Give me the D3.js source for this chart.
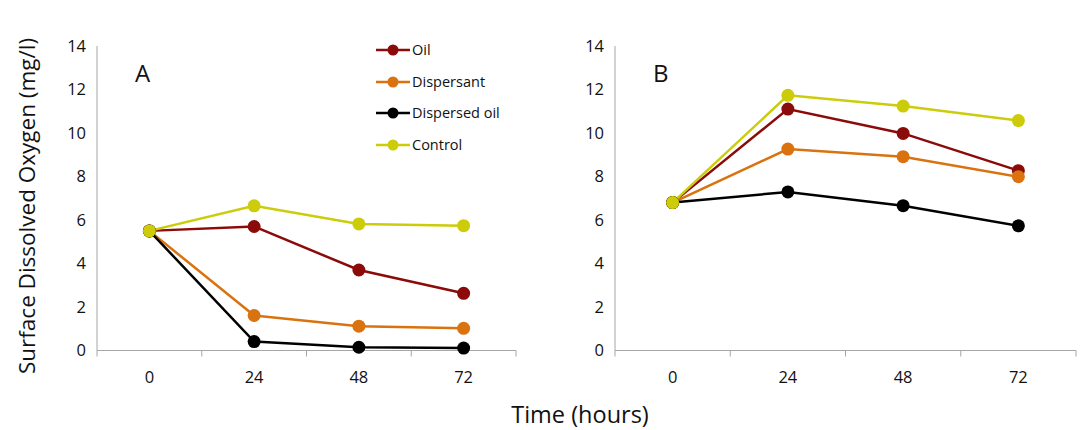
<!DOCTYPE html>
<html><head><meta charset="utf-8">
<script src="https://cdn.jsdelivr.net/npm/d3@7"></script>
<style>body{margin:0;background:#fff;} text{font-family:"Open Sans",sans-serif;}</style>
</head><body><svg id="c" width="1084" height="430"></svg>
<script>
const times = ["0","24","48","72"];
const seriesNames = ["Oil","Dispersant","Dispersed oil","Control"];
const seriesColors = ["#8b0a0a","#d9720f","#000000","#cccc0a"];
const yTicks = [0,2,4,6,8,10,12,14];
// Panel A values
const oilA = [5.5, 5.7, 3.7, 2.63];
const dispersantA = [5.5, 1.61, 1.12, 1.02];
const dispersedOilA = [5.5, 0.41, 0.15, 0.11];
const controlA = [5.5, 6.65, 5.82, 5.74];
// Panel B values
const oilB = [6.8, 11.1, 9.98, 8.27];
const dispersantB = [6.8, 9.26, 8.91, 7.99];
const dispersedOilB = [6.8, 7.29, 6.66, 5.73];
const controlB = [6.8, 11.73, 11.24, 10.57];

const svg = d3.select("#c");
const y = d3.scaleLinear().domain([0,14]).range([350.5,46]);
const axisColor = "#a6a6a6";

function panel(x0, x1, label, data, legend){
  const x = d3.scaleBand().domain(times).range([x0,x1]);
  const g = svg.append("g");
  g.append("line").attr("x1",x0).attr("x2",x0).attr("y1",y(14)).attr("y2",y(0)).attr("stroke",axisColor).attr("stroke-width",1);
  g.selectAll(".yt").data(yTicks).enter().append("text")
    .attr("x",x0-11).attr("y",d=>y(d)).attr("dy","0.35em").attr("text-anchor","end")
    .attr("font-size",16.5).attr("fill","#111").text(d=>d);
  g.append("line").attr("x1",x0).attr("x2",x1).attr("y1",y(0)).attr("y2",y(0)).attr("stroke",axisColor);
  const bounds = times.map(t=>x(t)).concat([x1]);
  g.selectAll(".xtk").data(bounds).enter().append("line")
    .attr("x1",d=>d).attr("x2",d=>d).attr("y1",y(0)).attr("y2",y(0)+6).attr("stroke",axisColor);
  g.selectAll(".xt").data(times).enter().append("text")
    .attr("x",d=>x(d)+x.bandwidth()/2).attr("y",377).attr("dy","0.35em").attr("text-anchor","middle")
    .attr("font-size",16.5).attr("fill","#111").text(d=>d);
  g.append("text").attr("x",x0+38).attr("y",82).attr("font-size",24).attr("fill","#111").text(label);
  const line = d3.line().x((d,i)=>x(times[i])+x.bandwidth()/2).y(d=>y(d));
  data.forEach((vals,si)=>{
    g.append("path").attr("d",line(vals)).attr("fill","none").attr("stroke",seriesColors[si]).attr("stroke-width",2.5);
  });
  data.forEach((vals,si)=>{
    g.selectAll(null).data(vals).enter().append("circle")
      .attr("cx",(d,i)=>x(times[i])+x.bandwidth()/2).attr("cy",d=>y(d)).attr("r",6.5)
      .attr("fill",seriesColors[si]);
  });
  if(legend){
    const rows = [50,82,113,145];
    seriesNames.forEach((n,i)=>{
      g.append("line").attr("x1",376).attr("x2",410).attr("y1",rows[i]).attr("y2",rows[i]).attr("stroke",seriesColors[i]).attr("stroke-width",2.5);
      g.append("circle").attr("cx",393).attr("cy",rows[i]).attr("r",5.5).attr("fill",seriesColors[i]);
      g.append("text").attr("x",412).attr("y",rows[i]).attr("dy","0.35em").attr("font-size",14.5).attr("fill","#111").text(n);
    });
  }
}
panel(97, 516, "A", [oilA, dispersantA, dispersedOilA, controlA], true);
panel(615, 1076, "B", [oilB, dispersantB, dispersedOilB, controlB], false);

svg.append("text").attr("transform","translate(35,206) rotate(-90)").attr("text-anchor","middle")
  .attr("font-size",22.5).attr("fill","#111").text("Surface Dissolved Oxygen (mg/l)");
svg.append("text").attr("x",580).attr("y",423).attr("text-anchor","middle")
  .attr("font-size",23.5).attr("fill","#111").text("Time (hours)");
</script></body></html>
